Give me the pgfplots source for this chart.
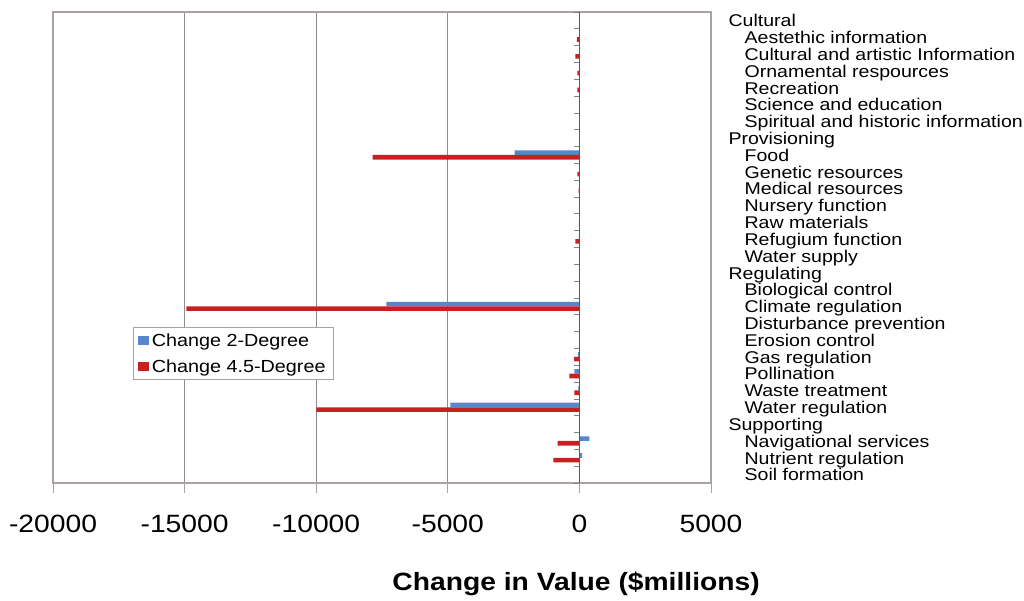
\documentclass[border=0pt]{standalone}
\usepackage{graphicx}
\usepackage{fontspec}
\setmainfont{Liberation Sans}
\usepackage{pgfplots}
\pgfplotsset{compat=1.18}
\definecolor{barblue}{RGB}{84,135,205}
\definecolor{barred}{RGB}{200,32,32}
\definecolor{boxgray}{RGB}{170,162,162}
\definecolor{gridgray}{RGB}{140,140,140}
\newcommand{\sx}[1]{\scalebox{1.13}[1]{#1}}
\begin{document}
\begin{tikzpicture}
\path[use as bounding box] (0pt,0pt) rectangle (1024pt,-601pt);
\begin{axis}[
 at={(53pt,-483pt)}, anchor=south west,
 scale only axis, width=658pt, height=471pt,
 xmin=-20000, xmax=5000, ymin=0.5, ymax=28.5, y dir=reverse,
 xtick={-20000,-15000,-10000,-5000,0,5000},
 scaled x ticks=false,
 xtick pos=left, tick align=outside, major tick length=10pt,
 x tick style={boxgray, line width=1pt},
 xmajorgrids, grid style={gridgray, line width=1pt},
 axis line style={boxgray, line width=1.5pt},
 /pgf/number format/assume math mode=true,
 /pgf/number format/1000 sep={},
 xticklabel style={font=\fontsize{25}{25}\selectfont, xscale=1.13, yshift=-18pt},
 ytick={1,...,28}, ytick pos=right, yticklabel pos=right, y tick style={draw=none},
 yticklabel style={font=\fontsize{17}{17}\selectfont, anchor=west, xscale=1.15, xshift=3pt, yshift=-2pt,
   text height=12.2pt, text depth=3.6pt, inner ysep=0pt},
 yticklabels={Cultural,
 \hspace*{14pt}Aestethic information,
 \hspace*{14pt}Cultural and artistic Information,
 \hspace*{14pt}Ornamental respources,
 \hspace*{14pt}Recreation,
 \hspace*{14pt}Science and education,
 \hspace*{14pt}Spiritual and historic information,
 Provisioning,
 \hspace*{14pt}Food,
 \hspace*{14pt}Genetic resources,
 \hspace*{14pt}Medical resources,
 \hspace*{14pt}Nursery function,
 \hspace*{14pt}Raw materials,
 \hspace*{14pt}Refugium function,
 \hspace*{14pt}Water supply,
 Regulating,
 \hspace*{14pt}Biological control,
 \hspace*{14pt}Climate regulation,
 \hspace*{14pt}Disturbance prevention,
 \hspace*{14pt}Erosion control,
 \hspace*{14pt}Gas regulation,
 \hspace*{14pt}Pollination,
 \hspace*{14pt}Waste treatment,
 \hspace*{14pt}Water regulation,
 Supporting,
 \hspace*{14pt}Navigational services,
 \hspace*{14pt}Nutrient regulation,
 \hspace*{14pt}Soil formation},
 xlabel={\sx{\bfseries Change in Value (\$millions)}},
 xlabel style={font=\fontsize{25}{25}\selectfont, at={(axis description cs:0.795,-0.215)}, anchor=center},
 legend style={at={(axis description cs:0.1216,0.331)}, anchor=north west, draw=boxgray, line width=0.8pt,
   font=\fontsize{17.5}{17.5}\selectfont, legend cell align=left, inner xsep=5pt, inner ysep=4pt, row sep=8pt,
   nodes={inner xsep=2.5pt}},
 legend image code/.code={\fill[#1] (0pt,-4.5pt) rectangle (11pt,4.5pt);},
]
\addplot[xbar, bar width=4.6pt, bar shift=2.3pt, fill=barblue, draw=none] coordinates {
 (-2460,9) (-20,14) (-7330,18) (-60,21) (-190,22) (-40,23) (-4900,24) (380,26) (100,27)};
\addlegendentry{\sx{Change 2-Degree}}
\addplot[xbar, bar width=4.6pt, bar shift=-2.3pt, fill=barred, draw=none] coordinates {
 (-100,2) (-150,3) (-75,4) (-75,5) (-7860,9) (-80,10) (-30,11) (-10,12) (-20,13) (-150,14)
 (-14930,18) (-200,21) (-380,22) (-190,23) (-9990,24) (-830,26) (-990,27)};
\addlegendentry{\sx{Change 4.5-Degree}}
\end{axis}
\begin{axis}[
 at={(53pt,-483pt)}, anchor=south west,
 scale only axis, width=658pt, height=471pt,
 xmin=-20000, xmax=5000, ymin=0.5, ymax=28.5, y dir=reverse,
 axis x line=none, axis y line=center,
 ytick={0.5,1.5,...,28.5}, yticklabels={},
 tick align=outside, major tick length=5pt,
 y tick style={gray, line width=0.8pt},
 axis line style={-, color=black!65, line width=1.2pt},
]
\end{axis}
\end{tikzpicture}
\end{document}
